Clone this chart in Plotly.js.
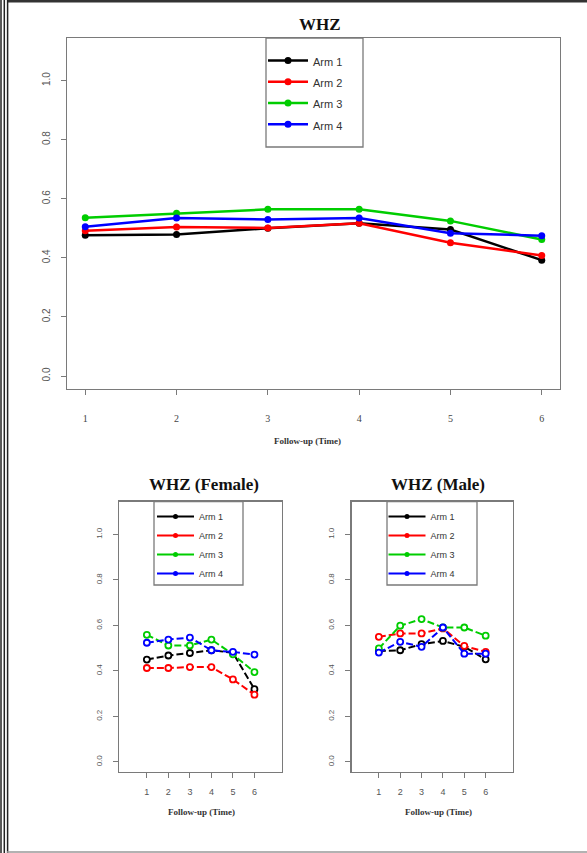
<!DOCTYPE html>
<html>
<head>
<meta charset="utf-8">
<script src="https://cdn.plot.ly/plotly-3.0.1.min.js"></script>
<style>
html,body{margin:0;padding:0;background:#fff;}
#chart{width:587px;height:853px;}
</style>
</head>
<body>
<div id="chart"></div>
<script>
// ---------- data ----------
const followUp = [1, 2, 3, 4, 5, 6];
const armNames = ['Arm 1', 'Arm 2', 'Arm 3', 'Arm 4'];
const armColors = ['#000000', '#FF0000', '#00CD00', '#0000FF'];
const yTickVals = [0, 0.2, 0.4, 0.6, 0.8, 1.0];
const yTickText = ['0.0', '0.2', '0.4', '0.6', '0.8', '1.0'];
const xTickText = ['1', '2', '3', '4', '5', '6'];

// WHZ overall
const whzArm1 = [0.476, 0.479, 0.500, 0.517, 0.496, 0.392];
const whzArm2 = [0.492, 0.504, 0.501, 0.517, 0.451, 0.408];
const whzArm3 = [0.536, 0.551, 0.564, 0.564, 0.525, 0.462];
const whzArm4 = [0.505, 0.535, 0.530, 0.535, 0.483, 0.475];

// WHZ female
const femArm1 = [0.450, 0.468, 0.479, 0.491, 0.480, 0.320];
const femArm2 = [0.413, 0.413, 0.417, 0.417, 0.363, 0.296];
const femArm3 = [0.559, 0.512, 0.512, 0.538, 0.473, 0.395];
const femArm4 = [0.524, 0.538, 0.547, 0.491, 0.484, 0.472];

// WHZ male
const malArm1 = [0.488, 0.491, 0.518, 0.532, 0.506, 0.451];
const malArm2 = [0.550, 0.565, 0.565, 0.587, 0.510, 0.484];
const malArm3 = [0.499, 0.599, 0.628, 0.591, 0.591, 0.555];
const malArm4 = [0.481, 0.528, 0.506, 0.591, 0.476, 0.476];

// ---------- layout helpers ----------
const W = 587, H = 853;
const px = v => v / W;
const py = v => 1 - v / H;

const whzAll = [whzArm1, whzArm2, whzArm3, whzArm4];
const femAll = [femArm1, femArm2, femArm3, femArm4];
const malAll = [malArm1, malArm2, malArm3, malArm4];

const traces = [];
// top panel: solid lines, filled circles
whzAll.forEach((vals, i) => {
  traces.push({
    type: 'scatter', mode: 'lines+markers', x: followUp, y: vals,
    xaxis: 'x', yaxis: 'y',
    name: '<span style="font-size:11px">' + armNames[i] + '</span>',
    legend: 'legend',
    line: {color: armColors[i], width: 2.5},
    marker: {color: armColors[i], size: 7, symbol: 'circle'},
    hoverinfo: 'skip'
  });
});
// bottom panels: dashed lines, open circles
function sexPanel(all, xa, ya, leg) {
  all.forEach((vals, i) => {
    traces.push({
      type: 'scatter', mode: 'lines+markers', x: followUp, y: vals,
      xaxis: xa, yaxis: ya, name: armNames[i], showlegend: false,
      line: {color: armColors[i], width: 2, dash: '7px,3px'},
      marker: {color: '#ffffff', size: 6, symbol: 'circle', line: {color: armColors[i], width: 1.8}},
      hoverinfo: 'skip'
    });
  });
  // legend entries (solid line + filled dot, as in the reference key)
  armNames.forEach((nm, i) => {
    traces.push({
      type: 'scatter', mode: 'lines+markers', x: [null], y: [null],
      xaxis: xa, yaxis: ya, name: nm, legend: leg,
      line: {color: armColors[i], width: 2},
      marker: {color: armColors[i], size: 5},
      hoverinfo: 'skip'
    });
  });
}
sexPanel(femAll, 'x2', 'y2', 'legend2');
sexPanel(malAll, 'x3', 'y3', 'legend3');

const axisGray = '#7a7a7a';
function xAxis(domain, range, anchor, tickFont, standoff) {
  return {
    domain: domain, range: range, anchor: anchor,
    tickmode: 'array', tickvals: followUp, ticktext: xTickText,
    ticks: 'outside', ticklen: 5, tickwidth: 1, tickcolor: axisGray,
    showline: true, mirror: true, linecolor: axisGray, linewidth: 1.4,
    showgrid: false, zeroline: false, tickfont: tickFont,
    ticklabelstandoff: standoff, fixedrange: true
  };
}
function yAxis(domain, anchor, tickFont, standoff) {
  return {
    domain: domain, range: [-0.044, 1.144], anchor: anchor,
    tickmode: 'array', tickvals: yTickVals, ticktext: yTickText,
    tickangle: -90,
    ticks: 'outside', ticklen: 5, tickwidth: 1, tickcolor: axisGray,
    showline: true, mirror: true, linecolor: axisGray, linewidth: 1.4,
    showgrid: false, zeroline: false, tickfont: tickFont,
    ticklabelstandoff: standoff, fixedrange: true
  };
}

const serifTick = {family: 'Liberation Serif, Times New Roman, serif', size: 10, color: '#444'};
const sansTickTop = {family: 'Liberation Sans, Arial, sans-serif', size: 10, color: '#555'};
const sansTickSm = {family: 'Liberation Sans, Arial, sans-serif', size: 9, color: '#555'};
const sansTickY = {family: 'Liberation Sans, Arial, sans-serif', size: 8, color: '#555'};

const botTop = 501.7, botBottom = 772;

const layout = {
  width: W, height: H,
  margin: {l: 0, r: 0, t: 0, b: 0},
  paper_bgcolor: '#ffffff', plot_bgcolor: '#ffffff',
  showlegend: true,
  xaxis: xAxis([px(67), px(560)], [0.8, 6.2], 'y', serifTick, 15),
  yaxis: yAxis([py(389), py(38)], 'x', sansTickTop, 7),
  xaxis2: xAxis([px(119.3), px(282)], [-0.28, 7.28], 'y2', sansTickSm, 6),
  yaxis2: yAxis([py(botBottom), py(botTop)], 'x2', sansTickY, 8),
  xaxis3: xAxis([px(351.5), px(513)], [-0.28, 7.28], 'y3', sansTickSm, 6),
  yaxis3: yAxis([py(botBottom), py(botTop)], 'x3', sansTickY, 8),
  legend: {
    x: px(263), y: py(45), xanchor: 'left', yanchor: 'top',
    bgcolor: 'rgba(0,0,0,0)', borderwidth: 0, itemwidth: 40,
    font: {family: 'Liberation Sans, Arial, sans-serif', size: 14, color: '#333'}
  },
  legend2: {
    x: px(152), y: py(502), xanchor: 'left', yanchor: 'top',
    bgcolor: 'rgba(0,0,0,0)', borderwidth: 0, itemwidth: 37,
    font: {family: 'Liberation Sans, Arial, sans-serif', size: 9, color: '#333'}
  },
  legend3: {
    x: px(383.5), y: py(502), xanchor: 'left', yanchor: 'top',
    bgcolor: 'rgba(0,0,0,0)', borderwidth: 0, itemwidth: 37,
    font: {family: 'Liberation Sans, Arial, sans-serif', size: 9, color: '#333'}
  },
  annotations: [
    {text: '<b>WHZ</b>', x: px(320), y: py(25), xref: 'paper', yref: 'paper', xanchor: 'center', yanchor: 'middle', showarrow: false,
     font: {family: 'Liberation Serif, Times New Roman, serif', size: 17, color: '#111'}},
    {text: '<b>Follow-up (Time)</b>', x: px(307), y: py(441), xref: 'paper', yref: 'paper', xanchor: 'center', yanchor: 'middle', showarrow: false,
     font: {family: 'Liberation Serif, Times New Roman, serif', size: 9, color: '#333'}},
    {text: '<b>WHZ (Female)</b>', x: px(204), y: py(485), xref: 'paper', yref: 'paper', xanchor: 'center', yanchor: 'middle', showarrow: false,
     font: {family: 'Liberation Serif, Times New Roman, serif', size: 17, color: '#111'}},
    {text: '<b>WHZ (Male)</b>', x: px(437.7), y: py(485), xref: 'paper', yref: 'paper', xanchor: 'center', yanchor: 'middle', showarrow: false,
     font: {family: 'Liberation Serif, Times New Roman, serif', size: 17, color: '#111'}},
    {text: '<b>Follow-up (Time)</b>', x: px(201), y: py(812), xref: 'paper', yref: 'paper', xanchor: 'center', yanchor: 'middle', showarrow: false,
     font: {family: 'Liberation Serif, Times New Roman, serif', size: 9, color: '#333'}},
    {text: '<b>Follow-up (Time)</b>', x: px(438), y: py(812), xref: 'paper', yref: 'paper', xanchor: 'center', yanchor: 'middle', showarrow: false,
     font: {family: 'Liberation Serif, Times New Roman, serif', size: 9, color: '#333'}}
  ],
  shapes: [
    // legend frames
    {type: 'rect', xref: 'paper', yref: 'paper', x0: px(266), x1: px(363), y0: py(147), y1: py(38), line: {color: axisGray, width: 1.3}},
    {type: 'rect', xref: 'paper', yref: 'paper', x0: px(154), x1: px(243), y0: py(585), y1: py(botTop), line: {color: axisGray, width: 1.3}},
    {type: 'rect', xref: 'paper', yref: 'paper', x0: px(387), x1: px(477), y0: py(585), y1: py(botTop), line: {color: axisGray, width: 1.3}},
    // page frame
    {type: 'line', xref: 'paper', yref: 'paper', x0: px(7), x1: 1, y0: py(1.2), y1: py(1.2), line: {color: '#333', width: 2.5}},
    {type: 'line', xref: 'paper', yref: 'paper', x0: px(1), x1: px(1), y0: 0, y1: 1, line: {color: '#222', width: 1.5}},
    {type: 'line', xref: 'paper', yref: 'paper', x0: px(4.3), x1: px(4.3), y0: 0, y1: 1, line: {color: '#222', width: 1.5}},
    {type: 'line', xref: 'paper', yref: 'paper', x0: px(7.6), x1: px(7.6), y0: 0, y1: 1, line: {color: '#222', width: 1.5}},
    {type: 'line', xref: 'paper', yref: 'paper', x0: px(7), x1: 1, y0: py(852), y1: py(852), line: {color: '#999', width: 1.5}}
  ]
};

Plotly.newPlot('chart', traces, layout, {displayModeBar: false, staticPlot: true});
</script>
</body>
</html>
